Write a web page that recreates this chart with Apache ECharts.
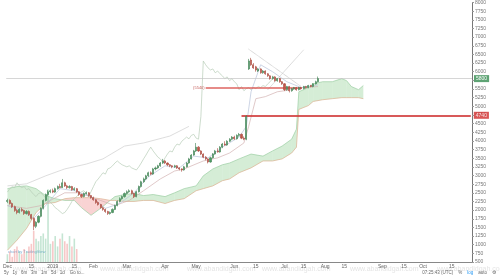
<!DOCTYPE html>
<html>
<head>
<meta charset="utf-8">
<script src="https://cdn.jsdelivr.net/npm/echarts@6/dist/echarts.min.js"></script>
<style>
html,body{margin:0;padding:0;background:#fff}
#chart{width:500px;height:275px}
</style>
</head>
<body>
<div id="chart"></div>
<script>
// daily candles [open, close, low, high]
const candles = [
  [2250,2280,2200,2330],[2280,2190,2160,2310],[2190,2100,2060,2220],[2100,1990,1950,2130],[1990,1930,1880,2030],
  [1930,2020,1900,2060],[2020,1990,1950,2070],[1990,1900,1860,2010],[1900,1960,1870,2000],[1960,1870,1830,1990],
  [1870,1760,1720,1890],[1760,1530,1420,1790],[1530,1650,1480,1680],[1650,1820,1620,1850],[1820,2050,1790,2080],
  [2050,2280,2020,2310],[2280,2450,2250,2480],[2450,2530,2400,2580],[2530,2560,2490,2600],[2560,2520,2490,2620],
  [2520,2620,2500,2650],[2620,2680,2590,2710],[2680,2650,2630,2760],[2650,2790,2640,2900],[2790,2700,2670,2820],
  [2700,2650,2610,2730],[2650,2680,2620,2720],[2680,2590,2560,2700],[2590,2620,2560,2660],[2620,2530,2500,2640],
  [2530,2450,2410,2550],[2450,2390,2350,2470],[2390,2480,2370,2510],[2480,2500,2450,2540],[2500,2420,2390,2520],
  [2420,2360,2330,2440],[2360,2300,2270,2390],[2300,2220,2180,2320],[2220,2160,2130,2250],[2160,2070,2040,2180],
  [2070,2020,1980,2100],[2020,1960,1920,2040],[1960,1900,1860,1980],[1900,1930,1870,1960],[1930,2020,1910,2050],
  [2020,2130,2000,2160],[2130,2250,2110,2280],[2250,2330,2220,2370],[2330,2390,2300,2420],[2390,2480,2360,2510],
  [2480,2530,2450,2570],[2530,2560,2500,2600],[2560,2480,2450,2590],[2480,2390,2350,2500],[2390,2530,2370,2560],
  [2530,2680,2510,2710],[2680,2820,2650,2850],[2820,2900,2790,2940],[2900,2990,2870,3020],[2990,3080,2960,3110],
  [3080,3040,3010,3120],[3040,3190,3020,3220],[3190,3220,3150,3260],[3220,3280,3190,3310],[3280,3360,3250,3390],
  [3360,3420,3330,3480],[3420,3360,3330,3450],[3360,3310,3270,3380],[3310,3280,3240,3330],[3280,3250,3210,3300],
  [3250,3280,3220,3310],[3280,3220,3190,3300],[3220,3190,3150,3240],[3190,3160,3110,3210],[3160,3250,3140,3280],
  [3250,3360,3230,3390],[3360,3480,3340,3510],[3480,3590,3460,3620],[3590,3710,3570,3740],[3710,3820,3680,3940],
  [3820,3710,3680,3850],[3710,3620,3590,3730],[3620,3530,3500,3640],[3530,3480,3440,3560],[3480,3390,3350,3500],
  [3390,3510,3370,3540],[3510,3620,3490,3650],[3620,3710,3600,3740],[3710,3680,3660,3790],[3680,3820,3660,3850],
  [3820,3910,3790,3940],[3910,3880,3860,3990],[3880,3990,3860,4020],[3990,4050,3970,4080],[4050,4110,4020,4140],
  [4110,4060,4030,4150],[4060,4160,4040,4190],[4160,4190,4120,4230],[4190,4080,4050,4210],[4080,4050,4020,4130],
  [4050,4710,4020,4740],[6080,6310,6050,6370],[6340,6200,6170,6400],[6200,6110,6080,6250],[6140,6050,6000,6170],
  [6020,6080,5990,6110],[6080,5970,5940,6100],[5970,6020,5940,6050],[6020,5940,5910,6040],[5940,5880,5850,5960],
  [5880,5800,5770,5900],[5800,5850,5770,5880],[5850,5740,5710,5870],[5740,5800,5710,5820],[5800,5710,5680,5820],
  [5710,5650,5620,5730],[5650,5480,5440,5670],[5480,5570,5450,5590],[5570,5450,5400,5590],[5450,5510,5420,5530],
  [5510,5540,5480,5560],[5540,5480,5450,5560],[5480,5540,5460,5560],[5540,5510,5480,5560],[5510,5570,5490,5590],
  [5570,5540,5510,5590],[5540,5600,5520,5620],[5600,5570,5550,5620],[5570,5650,5550,5670],[5650,5710,5630,5740],
  [5710,5800,5690,5860]
];
const volumes = [3,4,2,5,6,4,3,5,4,6,7,12,9,8,10,11,9,28,7,8,10,6,9,11,8,7,10,6,9,5];

// ichimoku cloud samples: bar index, leading span A, leading span B
const cloudIdx = [0,4,8,12,16,20,24,28,31,35,39,43,45,49,53,57,61,66,70,74,79,82,86,90,93,97,102,107,111,115,119,121,122,126,128,132,136,140,142,144,147,149];
const spanA = [2620,2680,2700,2620,2420,2330,2280,2280,2070,1850,2050,2280,2390,2450,2480,2420,2450,2390,2500,2620,2700,2990,3190,3310,3360,3480,3620,3560,3710,3850,4050,4340,5420,5540,5650,5710,5710,5800,5740,5570,5480,5600];
const spanB = [840,1130,1470,1930,2190,2220,2330,2360,2360,2360,2330,2280,2280,2250,2250,2280,2280,2190,2280,2330,2560,2620,2700,2850,2900,3080,3220,3420,3420,3480,3650,3820,4910,5020,5140,5190,5220,5250,5250,5250,5250,5220];

const tenkan = [[0,2130],[6,1990],[11,1760],[16,2130],[22,2620],[28,2560],[35,2390],[41,2050],[47,2190],[53,2500],[59,2960],[66,3280],[72,3220],[78,3560],[84,3510],[90,3820],[97,4110],[100,4420],[102,5420],[106,6200],[111,6000],[117,5710],[123,5540],[130,5620]];
const kijun = [[0,2130],[8,2050],[14,2130],[18,2280],[24,2500],[30,2500],[37,2330],[45,2130],[51,2280],[57,2560],[64,2900],[70,3130],[74,3190],[82,3420],[88,3510],[93,3650],[99,3940],[101,4420],[104,5220],[108,5280],[113,5420],[119,5480],[123,5540],[130,5570]];
const upperBand = [[0,2700],[8,2760],[16,2990],[24,3190],[33,3330],[40,3480],[49,3850],[57,3940],[68,4140],[76,4420]];
const trendDown = [[101,6650],[123,5570]];
const trendUp = [[109,5480],[124,6630]];

const lastPrice = 5800;
const fibLevel = 5540;
const supportLevel = 4740;

const dateTicks = [[0,'Dec'],[10,'15'],[19,'2019'],[28,'15'],[36,'Feb'],[50,'Mar'],[66,'Apr'],[79,'May'],[95,'Jun'],[104,'15'],[116,'Jul'],[124,'15'],[133,'Aug'],[141,'15'],[157,'Sep'],[166,'15'],[174,'Oct'],[186,'15']];

const TOTAL = 195;
const categories = Array.from({length: TOTAL}, (_, i) => String(i));
const tickMap = new Map(dateTicks);
const closes = candles.map(c => c[1]);
// lagging span: close plotted back
const chikou = closes.slice(19).map((c, i) => [i, c]);
const volData = volumes.map((v, i) => ({
  value: v,
  itemStyle: {color: candles[i][1] >= candles[i][0] ? 'rgba(90,180,130,0.35)' : 'rgba(235,110,110,0.38)'}
}));
const cloudData = cloudIdx.map((x, k) => [x, spanA[k], spanB[k]]);

function renderCloud(params, api) {
  const k = params.dataIndex;
  if (k >= cloudData.length - 1) return;
  const p = cloudData[k], q = cloudData[k + 1];
  const pts = [api.coord([p[0], p[1]]), api.coord([q[0], q[1]]), api.coord([q[0], q[2]]), api.coord([p[0], p[2]])];
  const bull = p[1] + q[1] >= p[2] + q[2];
  return {
    type: 'polygon',
    shape: {points: pts},
    style: {fill: bull ? 'rgba(129,199,132,0.33)' : 'rgba(239,140,140,0.38)'}
  };
}

function thin(name, data, color, type) {
  return {
    name: name, type: 'line', data: data, symbol: 'none', silent: true,
    lineStyle: {width: 0.7, color: color, type: type || 'solid'}
  };
}

const chart = echarts.init(document.getElementById('chart'));
chart.setOption({
  animation: false,
  backgroundColor: '#fff',
  grid: {left: 0, right: 28, top: 2, bottom: 13},
  xAxis: {
    type: 'category',
    data: categories,
    axisLine: {lineStyle: {color: '#888', width: 1}},
    axisTick: {show: false},
    axisLabel: {
      fontSize: 5, color: '#666', margin: 2,
      interval: (idx) => tickMap.has(idx),
      formatter: (v, idx) => tickMap.get(idx) || ''
    },
    splitLine: {show: false}
  },
  yAxis: [{
    type: 'value', position: 'right', min: 500, max: 8000, interval: 250,
    axisLine: {show: true, lineStyle: {color: '#777', width: 1}},
    axisTick: {show: true, length: 2, lineStyle: {color: '#999'}},
    axisLabel: {fontSize: 5, color: '#777', margin: 3, formatter: (v) => String(v)},
    splitLine: {show: false}
  }, {
    type: 'value', min: 0, max: 100, show: false
  }],
  series: [
    {
      type: 'bar', yAxisIndex: 1, data: volData, barWidth: 1.6, silent: true
    },
    {
      type: 'custom', renderItem: renderCloud, data: cloudData, silent: true,
      encode: {x: 0, y: [1, 2]}, z: 1
    },
    thin('spanA', cloudData.map(d => [d[0], d[1]]), '#9ccfa3'),
    thin('spanB', cloudData.map(d => [d[0], d[2]]), '#dbb08f'),
    thin('upper', upperBand, '#cfcfcf'),
    thin('chikou', chikou, '#b7cdb7'),
    thin('kijun', kijun, '#d2b2b2'),
    thin('tenkan', tenkan, '#b7c3da'),
    thin('down', trendDown, '#a0a0a0', 'dotted'),
    thin('up', trendUp, '#a0a0a0', 'dotted'),
    {
      type: 'candlestick',
      data: candles,
      barWidth: 1.6,
      z: 5,
      itemStyle: {
        color: '#4f9d66', color0: '#c2574a',
        borderColor: '#3f7f52', borderColor0: '#a8463b', borderWidth: 0.6
      },
      markLine: {
        silent: true, symbol: ['none', 'none'], animation: false,
        data: [
          {
            yAxis: lastPrice,
            lineStyle: {color: '#c4c4c4', width: 0.7, type: 'solid'},
            label: {
              position: 'end', formatter: String(lastPrice), fontSize: 5, color: '#fff',
              backgroundColor: '#5ea374', padding: [1, 2], distance: 2
            }
          },
          [
            {
              coord: [83, fibLevel],
              lineStyle: {color: '#d9534f', width: 1.5, type: 'solid', opacity: 0.9},
              label: {position: 'start', formatter: '(' + fibLevel + ')', fontSize: 4, color: '#c0504d', distance: 1}
            },
            {coord: [123, fibLevel]}
          ],
          [
            {
              coord: [98, supportLevel],
              lineStyle: {color: '#d13c3c', width: 1.8, type: 'solid', opacity: 0.85},
              label: {
                position: 'end', formatter: String(supportLevel), fontSize: 5, color: '#fff',
                backgroundColor: '#d33a3a', padding: [1, 2], distance: 3
              }
            },
            {coord: [194, supportLevel]}
          ]
        ]
      }
    }
  ],
  graphic: [
    {type: 'text', left: 8, top: 250, silent: true, style: {text: 'chart by TradingView', fontSize: 4, fill: '#7fb0d8'}},
    {type: 'text', left: 13, top: 266, silent: true, style: {text: 'www.abandidgah.com', fontSize: 7, fill: '#e4e4e4'}},
    {type: 'text', left: 100, top: 266, silent: true, style: {text: 'www.abandidgah.com', fontSize: 7, fill: '#e4e4e4'}},
    {type: 'text', left: 187, top: 266, silent: true, style: {text: 'www.abandidgah.com', fontSize: 7, fill: '#e4e4e4'}},
    {type: 'text', left: 262, top: 266, silent: true, style: {text: 'www.abandidgah.com', fontSize: 7, fill: '#e4e4e4'}},
    {type: 'text', left: 350, top: 266, silent: true, style: {text: 'www.abandidgah.com', fontSize: 7, fill: '#e4e4e4'}},
    {type: 'text', left: 437, top: 266, silent: true, style: {text: 'www.abandidgah.com', fontSize: 7, fill: '#e4e4e4'}},
    {type: 'text', left: 4, top: 270, silent: true, style: {text: '5y   1y   6m   3m   1m   5d   1d    Go to...', fontSize: 4.5, fill: '#666'}},
    {
      type: 'text', right: 4, top: 270, silent: true,
      style: {
        text: '{a|07:25:43 (UTC)    %    }{b|log}{a|    auto    ⚙}',
        rich: {a: {fontSize: 4.5, fill: '#666'}, b: {fontSize: 4.5, fill: '#2196f3'}}
      }
    }
  ]
});
</script>
</body>
</html>
